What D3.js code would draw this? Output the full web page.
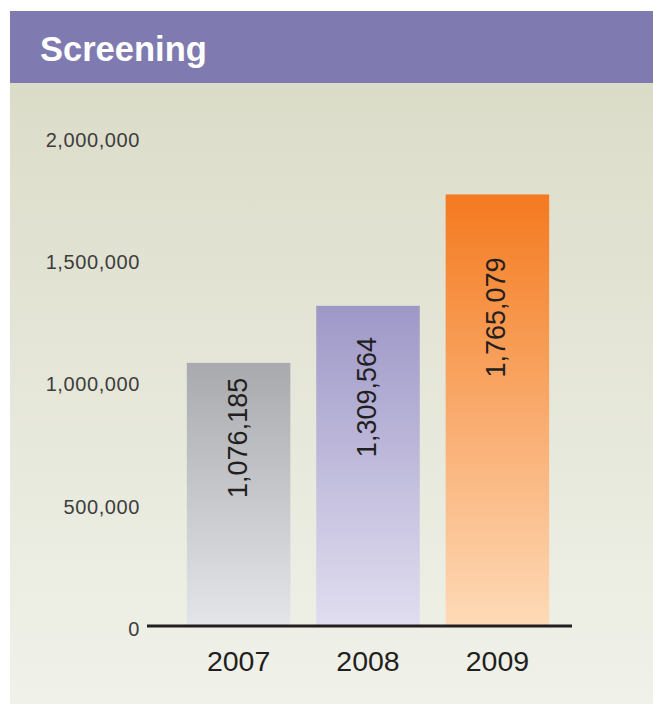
<!DOCTYPE html>
<html>
<head>
<meta charset="utf-8">
<script src="https://cdn.jsdelivr.net/npm/d3@7"></script>
<style>
  html, body { margin: 0; padding: 0; background: #ffffff; }
  svg { display: block; }
</style>
</head>
<body>
<svg id="chart" width="653" height="704"></svg>
<script>
// ---- data ----
const title = "Screening";
const years = ["2007", "2008", "2009"];
const screenings = [1076185, 1309564, 1765079];
const yTicks = [0, 500000, 1000000, 1500000, 2000000];
const barTopColors = ["#a9aaad", "#9e98c7", "#f47a1f"];
const barBottomColors = ["#e4e5e8", "#e1def0", "#fedab8"];

const svg = d3.select("#chart");
const W = 653, H = 704;
const font = "'Liberation Sans', Arial, Helvetica, sans-serif";

const defs = svg.append("defs");
const bg = defs.append("linearGradient").attr("id", "bgGrad")
  .attr("x1", 0).attr("y1", 0).attr("x2", 0).attr("y2", 1);
bg.append("stop").attr("offset", "0%").attr("stop-color", "#dbdcc8");
bg.append("stop").attr("offset", "100%").attr("stop-color", "#f0f2ea");

years.forEach((y, i) => {
  const g = defs.append("linearGradient").attr("id", "barGrad" + i)
    .attr("x1", 0).attr("y1", 0).attr("x2", 0).attr("y2", 1);
  g.append("stop").attr("offset", "0%").attr("stop-color", barTopColors[i]);
  g.append("stop").attr("offset", "100%").attr("stop-color", barBottomColors[i]);
});

// panel background
svg.append("rect").attr("x", 10).attr("y", 83).attr("width", W - 10).attr("height", H - 83)
  .attr("fill", "url(#bgGrad)");
// header band
svg.append("rect").attr("x", 10).attr("y", 11).attr("width", W - 10).attr("height", 72)
  .attr("fill", "#7f7bb1");
svg.append("text").attr("x", 40).attr("y", 61)
  .attr("font-family", font).attr("font-weight", "bold").attr("font-size", 34.5)
  .attr("fill", "#ffffff").text(title);

// scales
const x = d3.scaleBand().domain(years).range([148, 588]).paddingInner(0.2).paddingOuter(0.3);
const y = d3.scaleLinear().domain([0, 2000000]).range([626, 137]);

// bars
svg.append("g").selectAll("rect").data(years).join("rect")
  .attr("x", d => x(d))
  .attr("width", x.bandwidth())
  .attr("y", (d, i) => y(screenings[i]))
  .attr("height", (d, i) => y(0) - y(screenings[i]))
  .attr("fill", (d, i) => `url(#barGrad${i})`);

// value labels (rotated)
const fmt = d3.format(",");
svg.append("g").selectAll("text").data(years).join("text")
  .attr("transform", (d, i) => `translate(${x(d) + x.bandwidth() / 2 + 8},${y(screenings[i] * 0.715)}) rotate(-90)`)
  .attr("text-anchor", "middle")
  .attr("font-family", font).attr("font-size", 27)
  .attr("fill", "#231f20")
  .text((d, i) => fmt(screenings[i]));

// y axis labels
const yAxis = d3.axisLeft(y).tickValues(yTicks).tickFormat(fmt).tickSize(0).tickPadding(0);
const ya = svg.append("g").attr("transform", "translate(140,3)").call(yAxis);
ya.select(".domain").remove();
ya.selectAll("text")
  .attr("font-family", font).attr("font-size", 20).attr("fill", "#3d3d3d")
  .attr("letter-spacing", "0.6px");

// baseline
svg.append("line").attr("x1", 147).attr("x2", 572).attr("y1", y(0)).attr("y2", y(0))
  .attr("stroke", "#231f20").attr("stroke-width", 3);

// x axis labels
const xAxis = d3.axisBottom(x).tickSize(0).tickPadding(0);
const xa = svg.append("g").attr("transform", `translate(0,${y(0) + 25})`).call(xAxis);
xa.select(".domain").remove();
xa.selectAll("text")
  .attr("font-family", font).attr("font-size", 28.5).attr("fill", "#231f20");
</script>
</body>
</html>
